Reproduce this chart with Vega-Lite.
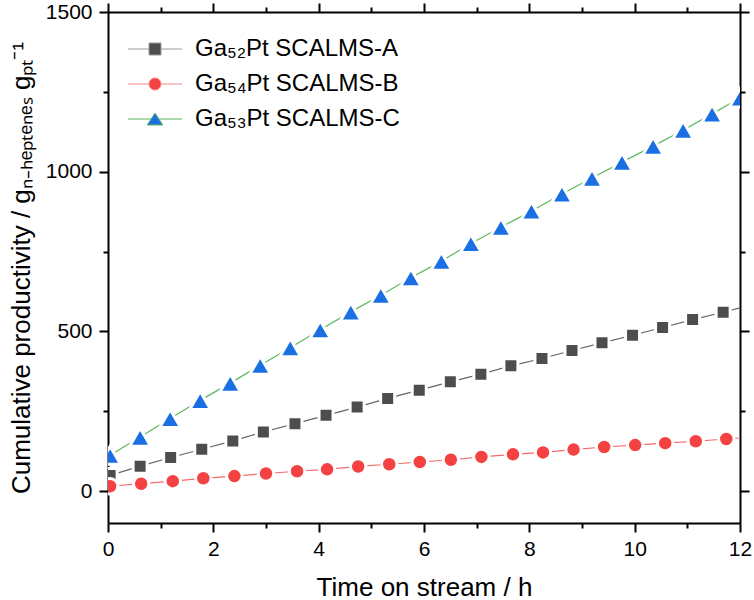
{
  "$schema": "https://vega.github.io/schema/vega-lite/v6.json",
  "width": 632,
  "height": 511,
  "autosize": {"type": "none"},
  "padding": {"left": 108, "top": 12, "right": 14, "bottom": 77},
  "background": "white",
  "config": {
    "font": "Liberation Sans",
    "view": {"stroke": null},
    "axis": {"domainColor": "black", "domainWidth": 2, "tickColor": "black", "tickWidth": 2, "labelColor": "black", "titleColor": "black", "grid": false, "labelFont": "Liberation Sans", "titleFont": "Liberation Sans", "labelFontSize": 21, "titleFontSize": 26, "titleFontWeight": "normal"}
  },
  "data": {"values": [
    {"series": "Ga₅₂Pt SCALMS-A", "t": 0.04, "p": 49},
    {"series": "Ga₅₂Pt SCALMS-A", "t": 0.61, "p": 78},
    {"series": "Ga₅₂Pt SCALMS-A", "t": 1.19, "p": 105},
    {"series": "Ga₅₂Pt SCALMS-A", "t": 1.78, "p": 131},
    {"series": "Ga₅₂Pt SCALMS-A", "t": 2.37, "p": 157},
    {"series": "Ga₅₂Pt SCALMS-A", "t": 2.95, "p": 185},
    {"series": "Ga₅₂Pt SCALMS-A", "t": 3.55, "p": 211},
    {"series": "Ga₅₂Pt SCALMS-A", "t": 4.14, "p": 237},
    {"series": "Ga₅₂Pt SCALMS-A", "t": 4.73, "p": 263},
    {"series": "Ga₅₂Pt SCALMS-A", "t": 5.31, "p": 290},
    {"series": "Ga₅₂Pt SCALMS-A", "t": 5.91, "p": 316},
    {"series": "Ga₅₂Pt SCALMS-A", "t": 6.50, "p": 342},
    {"series": "Ga₅₂Pt SCALMS-A", "t": 7.08, "p": 366},
    {"series": "Ga₅₂Pt SCALMS-A", "t": 7.65, "p": 392},
    {"series": "Ga₅₂Pt SCALMS-A", "t": 8.24, "p": 415},
    {"series": "Ga₅₂Pt SCALMS-A", "t": 8.81, "p": 440},
    {"series": "Ga₅₂Pt SCALMS-A", "t": 9.38, "p": 464},
    {"series": "Ga₅₂Pt SCALMS-A", "t": 9.96, "p": 488},
    {"series": "Ga₅₂Pt SCALMS-A", "t": 10.53, "p": 512},
    {"series": "Ga₅₂Pt SCALMS-A", "t": 11.10, "p": 537},
    {"series": "Ga₅₂Pt SCALMS-A", "t": 11.68, "p": 560},
    {"series": "Ga₅₂Pt SCALMS-A", "t": 12.26, "p": 585},
    {"series": "Ga₅₄Pt SCALMS-B", "t": 0.04, "p": 15},
    {"series": "Ga₅₄Pt SCALMS-B", "t": 0.63, "p": 23},
    {"series": "Ga₅₄Pt SCALMS-B", "t": 1.23, "p": 31},
    {"series": "Ga₅₄Pt SCALMS-B", "t": 1.81, "p": 40},
    {"series": "Ga₅₄Pt SCALMS-B", "t": 2.40, "p": 47},
    {"series": "Ga₅₄Pt SCALMS-B", "t": 3.00, "p": 55},
    {"series": "Ga₅₄Pt SCALMS-B", "t": 3.59, "p": 62},
    {"series": "Ga₅₄Pt SCALMS-B", "t": 4.16, "p": 68},
    {"series": "Ga₅₄Pt SCALMS-B", "t": 4.75, "p": 77},
    {"series": "Ga₅₄Pt SCALMS-B", "t": 5.34, "p": 84},
    {"series": "Ga₅₄Pt SCALMS-B", "t": 5.92, "p": 91},
    {"series": "Ga₅₄Pt SCALMS-B", "t": 6.51, "p": 98},
    {"series": "Ga₅₄Pt SCALMS-B", "t": 7.09, "p": 107},
    {"series": "Ga₅₄Pt SCALMS-B", "t": 7.69, "p": 115},
    {"series": "Ga₅₄Pt SCALMS-B", "t": 8.26, "p": 121},
    {"series": "Ga₅₄Pt SCALMS-B", "t": 8.84, "p": 130},
    {"series": "Ga₅₄Pt SCALMS-B", "t": 9.42, "p": 138},
    {"series": "Ga₅₄Pt SCALMS-B", "t": 10.01, "p": 144},
    {"series": "Ga₅₄Pt SCALMS-B", "t": 10.58, "p": 150},
    {"series": "Ga₅₄Pt SCALMS-B", "t": 11.16, "p": 156},
    {"series": "Ga₅₄Pt SCALMS-B", "t": 11.74, "p": 163},
    {"series": "Ga₅₄Pt SCALMS-B", "t": 12.32, "p": 170},
    {"series": "Ga₅₃Pt SCALMS-C", "t": 0.04, "p": 112},
    {"series": "Ga₅₃Pt SCALMS-C", "t": 0.61, "p": 169},
    {"series": "Ga₅₃Pt SCALMS-C", "t": 1.18, "p": 227},
    {"series": "Ga₅₃Pt SCALMS-C", "t": 1.75, "p": 284},
    {"series": "Ga₅₃Pt SCALMS-C", "t": 2.32, "p": 338},
    {"series": "Ga₅₃Pt SCALMS-C", "t": 2.89, "p": 394},
    {"series": "Ga₅₃Pt SCALMS-C", "t": 3.46, "p": 449},
    {"series": "Ga₅₃Pt SCALMS-C", "t": 4.03, "p": 505},
    {"series": "Ga₅₃Pt SCALMS-C", "t": 4.61, "p": 561},
    {"series": "Ga₅₃Pt SCALMS-C", "t": 5.18, "p": 613},
    {"series": "Ga₅₃Pt SCALMS-C", "t": 5.75, "p": 668},
    {"series": "Ga₅₃Pt SCALMS-C", "t": 6.33, "p": 720},
    {"series": "Ga₅₃Pt SCALMS-C", "t": 6.89, "p": 775},
    {"series": "Ga₅₃Pt SCALMS-C", "t": 7.46, "p": 826},
    {"series": "Ga₅₃Pt SCALMS-C", "t": 8.04, "p": 877},
    {"series": "Ga₅₃Pt SCALMS-C", "t": 8.62, "p": 930},
    {"series": "Ga₅₃Pt SCALMS-C", "t": 9.19, "p": 980},
    {"series": "Ga₅₃Pt SCALMS-C", "t": 9.76, "p": 1030},
    {"series": "Ga₅₃Pt SCALMS-C", "t": 10.35, "p": 1080},
    {"series": "Ga₅₃Pt SCALMS-C", "t": 10.92, "p": 1130},
    {"series": "Ga₅₃Pt SCALMS-C", "t": 11.47, "p": 1181},
    {"series": "Ga₅₃Pt SCALMS-C", "t": 12.0, "p": 1231}
  ]},
  "resolve": {"axis": {"x": "independent", "y": "independent"}},
  "layer": [
    {
      "transform": [{"filter": {"field": "series", "equal": "Ga₅₂Pt SCALMS-A"}}],
      "mark": {"type": "line", "color": "#666666", "strokeWidth": 1.2, "clip": true},
      "encoding": {
        "x": {"field": "t", "type": "quantitative", "scale": {"domain": [0, 12], "nice": false, "zero": false},
              "axis": {"orient": "bottom", "values": [0, 2, 4, 6, 8, 10, 12], "format": "d", "tickSize": 9, "labelPadding": 6, "title": "Time on stream / h", "titlePadding": 15, "labelFlush": false}},
        "y": {"field": "p", "type": "quantitative", "scale": {"domain": [-100, 1500], "nice": false, "zero": false},
              "axis": {"orient": "left", "values": [0, 500, 1000, 1500], "format": "d", "tickSize": 9, "labelPadding": 7, "title": "Cumulative productivity / gₙ₋ₕₑₚₜₑₙₑₛ gₚₜ⁻¹", "titlePadding": 11, "labelFlush": false}}
      }
    },
    {
      "transform": [{"filter": {"field": "series", "equal": "Ga₅₄Pt SCALMS-B"}}],
      "mark": {"type": "line", "color": "#f36b6b", "strokeWidth": 1.2, "clip": true},
      "encoding": {
        "x": {"field": "t", "type": "quantitative", "axis": null},
        "y": {"field": "p", "type": "quantitative", "axis": null}
      }
    },
    {
      "transform": [{"filter": {"field": "series", "equal": "Ga₅₃Pt SCALMS-C"}}],
      "mark": {"type": "line", "color": "#5cb85c", "strokeWidth": 1.2, "clip": true},
      "encoding": {
        "x": {"field": "t", "type": "quantitative", "axis": null},
        "y": {"field": "p", "type": "quantitative", "axis": null}
      }
    },
    {
      "transform": [{"filter": {"field": "series", "equal": "Ga₅₂Pt SCALMS-A"}}],
      "mark": {"type": "point", "shape": "square", "filled": true, "fill": "#4d4d4d", "stroke": "white", "strokeWidth": 3, "size": 196, "opacity": 1, "clip": true},
      "encoding": {
        "x": {"field": "t", "type": "quantitative", "axis": null},
        "y": {"field": "p", "type": "quantitative", "axis": null}
      }
    },
    {
      "transform": [{"filter": {"field": "series", "equal": "Ga₅₄Pt SCALMS-B"}}],
      "mark": {"type": "point", "shape": "circle", "filled": true, "fill": "#f44141", "stroke": "white", "strokeWidth": 3, "size": 240, "opacity": 1, "clip": true},
      "encoding": {
        "x": {"field": "t", "type": "quantitative", "axis": null},
        "y": {"field": "p", "type": "quantitative", "axis": null}
      }
    },
    {
      "transform": [{"filter": {"field": "series", "equal": "Ga₅₃Pt SCALMS-C"}}],
      "mark": {"type": "point", "shape": "triangle-up", "filled": true, "fill": "#1a6fe3", "stroke": "white", "strokeWidth": 3, "size": 437, "opacity": 1, "clip": true},
      "encoding": {
        "x": {"field": "t", "type": "quantitative", "axis": null},
        "y": {"field": "p", "type": "quantitative", "axis": null}
      }
    },
    {
      "transform": [{"filter": "false"}],
      "mark": {"type": "point", "filled": true, "strokeWidth": 1, "opacity": 1, "size": 144},
      "encoding": {
        "x": {"field": "t", "type": "quantitative", "axis": null},
        "y": {"field": "p", "type": "quantitative", "axis": null},
        "shape": {"field": "series", "type": "nominal",
          "scale": {"domain": ["Ga₅₂Pt SCALMS-A", "Ga₅₄Pt SCALMS-B", "Ga₅₃Pt SCALMS-C"],
                    "range": ["M-4.5,0H-1M1,0H4.5M-1,-1H1V1H-1Z",
                              "M-4.5,0H-1M1,0H4.5M1,0C1,0.5523 0.5523,1 0,1C-0.5523,1 -1,0.5523 -1,0C-1,-0.5523 -0.5523,-1 0,-1C0.5523,-1 1,-0.5523 1,0Z",
                              "M-4.5,0H-0.65M0.65,0H4.5M0,-1L1.3,1H-1.3Z"]},
          "legend": {"orient": "none", "legendX": 35, "legendY": 25, "title": null, "labelFontSize": 24, "labelFont": "Liberation Sans", "labelColor": "black", "labelOffset": 28, "rowPadding": 11, "padding": 0, "symbolSize": 144, "symbolStrokeWidth": 1, "labelLimit": 0}},
        "fill": {"field": "series", "type": "nominal",
          "scale": {"domain": ["Ga₅₂Pt SCALMS-A", "Ga₅₄Pt SCALMS-B", "Ga₅₃Pt SCALMS-C"], "range": ["#4d4d4d", "#f44141", "#1a6fe3"]},
          "legend": {"orient": "none", "legendX": 35, "legendY": 25, "title": null, "labelFontSize": 24, "labelFont": "Liberation Sans", "labelColor": "black", "labelOffset": 28, "rowPadding": 11, "padding": 0, "symbolSize": 144, "symbolStrokeWidth": 1, "labelLimit": 0}},
        "stroke": {"field": "series", "type": "nominal",
          "scale": {"domain": ["Ga₅₂Pt SCALMS-A", "Ga₅₄Pt SCALMS-B", "Ga₅₃Pt SCALMS-C"], "range": ["#9a9a9a", "#f78a8a", "#5cb85c"]},
          "legend": {"orient": "none", "legendX": 35, "legendY": 25, "title": null, "labelFontSize": 24, "labelFont": "Liberation Sans", "labelColor": "black", "labelOffset": 28, "rowPadding": 11, "padding": 0, "symbolSize": 144, "symbolStrokeWidth": 1, "labelLimit": 0}}
      }
    },
    {
      "transform": [{"filter": "false"}],
      "mark": {"type": "point", "opacity": 0},
      "encoding": {
        "x": {"field": "t", "type": "quantitative", "axis": {"orient": "bottom", "values": [1, 3, 5, 7, 9, 11], "labels": false, "domain": false, "tickSize": 5, "title": null}},
        "y": {"field": "p", "type": "quantitative", "axis": {"orient": "left", "values": [250, 750, 1250], "labels": false, "domain": false, "tickSize": 5, "title": null}}
      }
    },
    {
      "transform": [{"filter": "false"}],
      "mark": {"type": "point", "opacity": 0},
      "encoding": {
        "x": {"field": "t", "type": "quantitative", "axis": {"orient": "top", "values": [0, 2, 4, 6, 8, 10, 12], "labels": false, "tickSize": 9, "title": null}},
        "y": {"field": "p", "type": "quantitative", "axis": {"orient": "right", "values": [0, 500, 1000, 1500], "labels": false, "tickSize": 9, "title": null}}
      }
    },
    {
      "transform": [{"filter": "false"}],
      "mark": {"type": "point", "opacity": 0},
      "encoding": {
        "x": {"field": "t", "type": "quantitative", "axis": {"orient": "top", "values": [1, 3, 5, 7, 9, 11], "labels": false, "domain": false, "tickSize": 5, "title": null}},
        "y": {"field": "p", "type": "quantitative", "axis": {"orient": "right", "values": [250, 750, 1250], "labels": false, "domain": false, "tickSize": 5, "title": null}}
      }
    }
  ]
}
